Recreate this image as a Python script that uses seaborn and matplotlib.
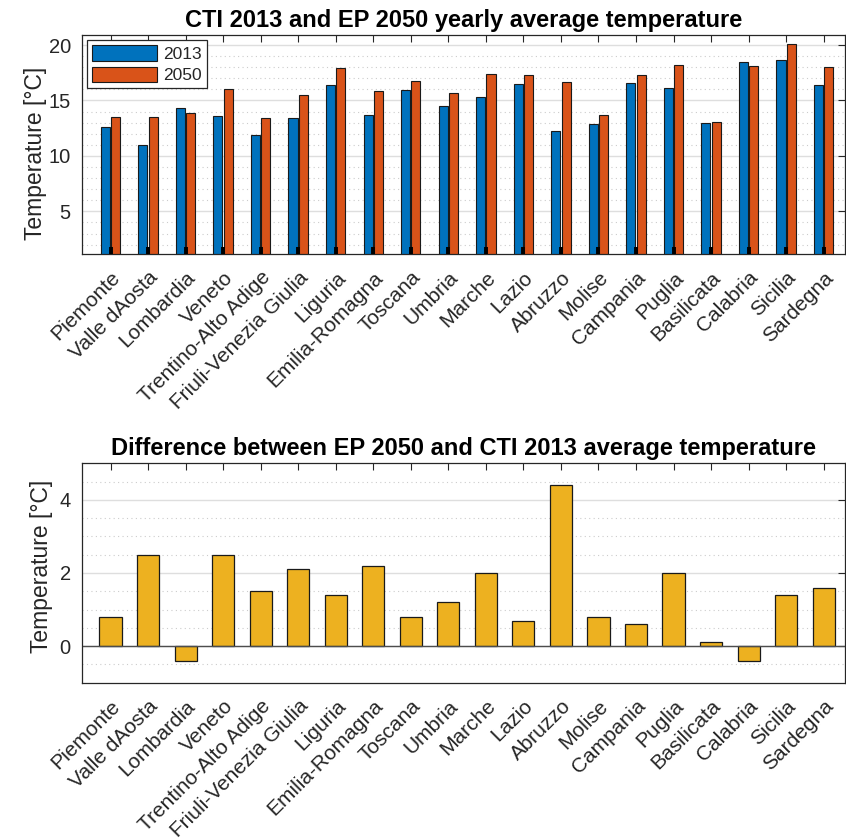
import numpy as np
import pandas as pd
import matplotlib
matplotlib.use("Agg")
import matplotlib.pyplot as plt
import seaborn as sns

regions = ["Piemonte", "Valle dAosta", "Lombardia", "Veneto", "Trentino-Alto Adige",
           "Friuli-Venezia Giulia", "Liguria", "Emilia-Romagna", "Toscana", "Umbria",
           "Marche", "Lazio", "Abruzzo", "Molise", "Campania", "Puglia", "Basilicata",
           "Calabria", "Sicilia", "Sardegna"]

temp_2013 = [12.6, 11.0, 14.3, 13.6, 11.9, 13.4, 16.4, 13.7, 15.95, 14.5,
             15.35, 16.5, 12.25, 12.85, 16.6, 16.15, 12.95, 18.45, 18.65, 16.35]
temp_2050 = [13.5, 13.5, 13.9, 16.05, 13.4, 15.5, 17.9, 15.85, 16.75, 15.65,
             17.4, 17.3, 16.65, 13.7, 17.3, 18.2, 13.1, 18.1, 20.05, 18.0]
temp_diff = [0.8, 2.5, -0.4, 2.5, 1.5, 2.1, 1.4, 2.2, 0.8, 1.2,
             2.0, 0.7, 4.4, 0.8, 0.6, 2.0, 0.1, -0.4, 1.4, 1.6]

years = ["2013", "2050"]
C_BLUE = "#0072BD"
C_ORANGE = "#D95319"
C_YELLOW = "#EDB120"
AX_COL = "#262626"

sns.set_style("white")
plt.rcParams["font.family"] = ["Liberation Sans", "DejaVu Sans"]
plt.rcParams["font.stretch"] = "normal"

df_top = pd.DataFrame({
    "region": regions * 2,
    "year": [years[0]] * len(regions) + [years[1]] * len(regions),
    "temp": temp_2013 + temp_2050,
})
df_bot = pd.DataFrame({"region": regions, "diff": temp_diff})

fig = plt.figure(figsize=(8.46, 8.40), dpi=100)
ax1 = fig.add_axes([0.0969, 0.6976, 0.9020, 0.2607])
ax2 = fig.add_axes([0.0969, 0.1873, 0.9020, 0.2612])


def style_axes(ax, ylim, major, minor, ylabel_x, ylabel_y):
    ax.set_ylim(*ylim)
    ax.set_xlim(-0.76, len(regions) - 1 + 0.57)
    ax.set_yticks(major)
    ax.set_yticks(minor, minor=True)
    ax.grid(which="major", axis="y", color="#dedede", linewidth=1.0, linestyle="-")
    ax.grid(which="minor", axis="y", color="#cccccc", linewidth=0.8, linestyle=(0, (1, 3)))
    ax.set_axisbelow(True)
    for s in ax.spines.values():
        s.set_color(AX_COL)
        s.set_linewidth(0.9)
        s.set_visible(True)
    ax.tick_params(axis="both", which="major", direction="in", top=True, right=True,
                   length=5, width=0.8, color=AX_COL, labelcolor=AX_COL)
    ax.tick_params(axis="y", which="major", labelsize=14.5, pad=8)
    ax.tick_params(axis="x", which="major", pad=10)
    ax.tick_params(axis="y", which="minor", left=False, right=False)
    ax.set_xlabel("")
    ax.set_ylabel("Temperature [°C]", fontsize=16.5, color=AX_COL)
    ax.yaxis.set_label_coords(ylabel_x, ylabel_y)
    ax.set_xticks(range(len(regions)))
    ax.set_xticklabels(regions, rotation=45, ha="right", va="top",
                       rotation_mode="anchor", fontsize=15, color=AX_COL)


# Yearly averages, grouped by region
sns.barplot(data=df_top, x="region", y="temp", hue="year", hue_order=years,
            palette=[C_BLUE, C_ORANGE], width=0.55, gap=0.12, ax=ax1,
            edgecolor="#1a1a1a", linewidth=0.8, errorbar=None, saturation=1)
style_axes(ax1, (1.15, 20.9), [5, 10, 15, 20],
           [v for v in range(2, 21) if v % 5 != 0], -0.046, 0.46)
ax1.vlines(range(len(regions)), 1.15, 1.75, color="black", linewidth=2.8, zorder=5)
ax1.set_title("CTI 2013 and EP 2050 yearly average temperature",
              fontsize=17, fontweight="bold", fontstretch="normal", color="black", pad=6)
leg = ax1.legend(loc="upper left", fontsize=12.5, handlelength=3.7, handleheight=1.0,
                 fancybox=False, framealpha=1, edgecolor=AX_COL, borderpad=0.3,
                 labelspacing=0.25, handletextpad=0.35, borderaxespad=0.3)
leg.get_frame().set_linewidth(0.9)

# Difference between the two scenarios
sns.barplot(data=df_bot, x="region", y="diff", color=C_YELLOW, width=0.59, ax=ax2,
            edgecolor="#1a1a1a", linewidth=0.9, errorbar=None, saturation=1)
style_axes(ax2, (-1, 5), [0, 2, 4], [-0.5, 0.5, 1, 1.5, 2.5, 3, 3.5, 4.5],
           -0.038, 0.53)
ax2.axhline(0, color="#4d4d4d", linewidth=1.0, zorder=1.5)
ax2.set_title("Difference between EP 2050 and CTI 2013 average temperature",
              fontsize=17, fontweight="bold", fontstretch="normal", color="black", pad=6)

fig.savefig("out.png", dpi=100)
